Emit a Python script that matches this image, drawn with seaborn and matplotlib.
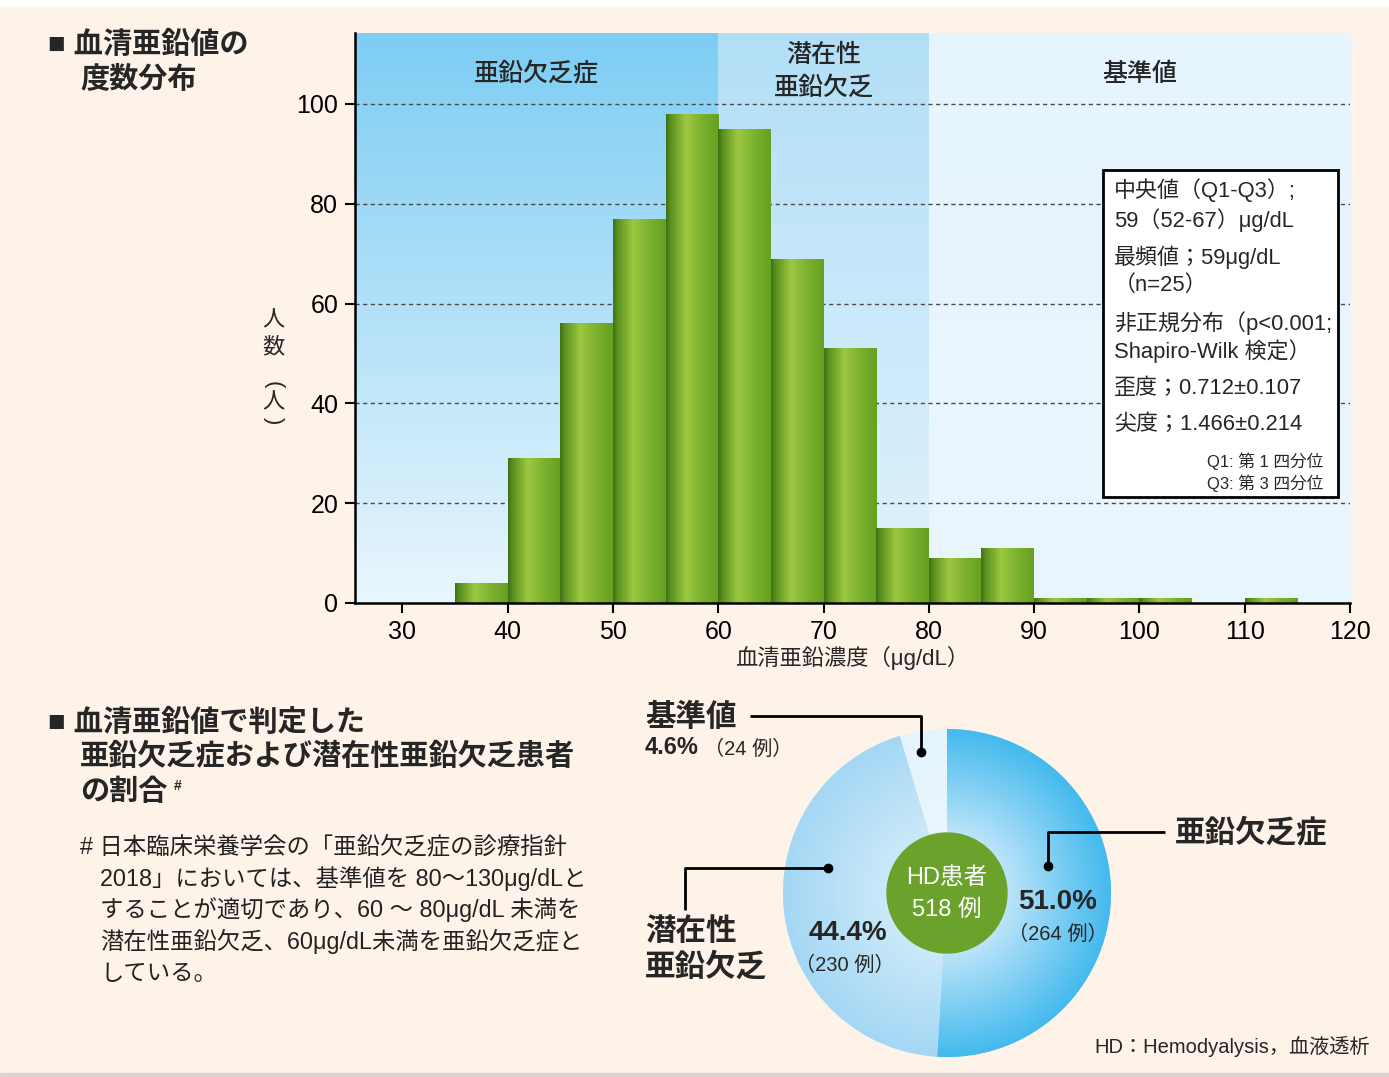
import numpy as np
import pandas as pd
import matplotlib
matplotlib.use("Agg")
import matplotlib.pyplot as plt
import seaborn as sns
from matplotlib.colors import LinearSegmentedColormap
from matplotlib.patches import Rectangle, Circle

# ---- data ----
bin_left = [35, 40, 45, 50, 55, 60, 65, 70, 75, 80, 85, 90, 95, 100, 105, 110]
counts = [4, 29, 56, 77, 98, 95, 69, 51, 15, 9, 11, 1, 1, 1, 0, 1]
bin_width = 5
x_ticks = [30, 40, 50, 60, 70, 80, 90, 100, 110, 120]
y_ticks = [0, 20, 40, 60, 80, 100]
zone_edges = [25.5, 60, 80, 120]
zone_names = [["亜鉛欠乏症"], ["潜在性", "亜鉛欠乏"], ["基準値"]]

pie_names = ["亜鉛欠乏症", "潜在性亜鉛欠乏", "基準値"]
pie_counts = [264, 230, 24]
n_total = 518

stats_lines = ["中央値（Q1-Q3）;", "59（52-67）μg/dL", "最頻値；59μg/dL", "（n=25）",
               "非正規分布（p<0.001;", "Shapiro-Wilk 検定）",
               "歪度；0.712±0.107", "尖度；1.466±0.214"]
stats_notes = ["Q1: 第 1 四分位", "Q3: 第 3 四分位"]
note_lines = ["# 日本臨床栄養学会の「亜鉛欠乏症の診療指針",
              "2018」においては、基準値を 80〜130μg/dLと",
              "することが適切であり、60 〜 80μg/dL 未満を",
              "潜在性亜鉛欠乏、60μg/dL未満を亜鉛欠乏症と",
              "している。"]

sns.set_style("white")
plt.rcParams['font.family'] = ['Liberation Sans', 'Noto Sans CJK JP', 'DejaVu Sans']

W, H = 1389, 1077
fig = plt.figure(figsize=(W / 100, H / 100), dpi=100, facecolor='#FEF3E8')

# ---- histogram ----
ax = fig.add_axes([355 / W, 1 - 603 / H, (1350 - 355) / W, (603 - 33) / H])
ymax = 114.2
zone_cmaps = [
    LinearSegmentedColormap.from_list("z1", ["#7DCDF4", "#EAF6FD"]),
    LinearSegmentedColormap.from_list("z2", ["#B2DFF7", "#E2F2FC"]),
    LinearSegmentedColormap.from_list("z3", ["#E6F4FD", "#EAF6FE"]),
]
vgrad = np.linspace(0, 1, 256).reshape(-1, 1)
for i in range(3):
    ax.imshow(vgrad, cmap=zone_cmaps[i], extent=[zone_edges[i], zone_edges[i + 1], 0, ymax],
              aspect='auto', zorder=0)

for yv in y_ticks[1:]:
    ax.axhline(yv, color='#4a4a4a', lw=1, ls=(0, (3, 2.5)), zorder=1)

df = pd.DataFrame({"zinc": [b + bin_width / 2 for b in bin_left], "n": counts})
sns.histplot(data=df, x="zinc", weights="n", binwidth=bin_width,
             binrange=(bin_left[0], bin_left[-1] + bin_width), ax=ax,
             color="#7AAE2C", alpha=1, linewidth=0, zorder=3)

green = LinearSegmentedColormap.from_list(
    "bar", [(0, "#3E7015"), (0.08, "#5A8F1F"), (0.38, "#9DC841"), (0.7, "#7AB02D"), (1, "#66A022")])
hgrad = np.linspace(0, 1, 128).reshape(1, -1)
for p in ax.patches:
    h = p.get_height()
    if h <= 0:
        continue
    x0 = p.get_x()
    im = ax.imshow(hgrad, cmap=green, extent=[x0, x0 + p.get_width(), 0, h],
                   aspect='auto', zorder=3.5, interpolation='bicubic')
    im.set_clip_path(p)

for i, names in enumerate(zone_names):
    xc = (zone_edges[i] + zone_edges[i + 1]) / 2
    if len(names) == 1:
        ax.text(xc, 106, names[0], ha='center', va='center', fontsize=18, fontweight='medium', zorder=5)
    else:
        ax.text(xc, 109.8, names[0], ha='center', va='center', fontsize=18, fontweight='medium', zorder=5)
        ax.text(xc, 103.2, names[1], ha='center', va='center', fontsize=18, fontweight='medium', zorder=5)

ax.set_xlim(zone_edges[0], zone_edges[-1])
ax.set_ylim(0, ymax)
ax.set_xticks(x_ticks)
ax.set_yticks(y_ticks)
ax.tick_params(axis='both', direction='out', length=7, width=1.5, colors='black',
               labelsize=18, pad=5, bottom=True, left=True)
for s in ['top', 'right']:
    ax.spines[s].set_visible(False)
for s in ['left', 'bottom']:
    ax.spines[s].set_color('black')
    ax.spines[s].set_linewidth(1.8)
    ax.spines[s].set_zorder(6)
ax.set_xlabel("血清亜鉛濃度（μg/dL）", fontsize=16, labelpad=2)
ax.set_ylabel("")

# ---- pie ----
cx, cy, r = 947, 893, 164
pax = fig.add_axes([(cx - r) / W, 1 - (cy + r) / H, 2 * r / W, 2 * r / H])
wedges, _ = pax.pie(pie_counts, startangle=90, counterclock=False,
                    colors=["#7FD0F3", "#BDE3F8", "#E8F5FC"], wedgeprops=dict(linewidth=0))
pie_cmaps = [
    LinearSegmentedColormap.from_list("p1", [(0, "#E3F4FD"), (0.35, "#BFE5F9"), (1, "#44BAEE")]),
    LinearSegmentedColormap.from_list("p2", [(0, "#E2F3FC"), (1, "#A4D7F4")]),
    LinearSegmentedColormap.from_list("p3", [(0, "#EEF8FE"), (1, "#E4F3FC")]),
]
yy, xx = np.mgrid[-1:1:300j, -1:1:300j]
rr = np.clip(np.hypot(xx, yy), 0, 1)
for w, cm in zip(wedges, pie_cmaps):
    im = pax.imshow(rr, cmap=cm, vmin=0, vmax=1, extent=[-1, 1, -1, 1], origin='lower', zorder=2)
    im.set_clip_path(w)
pax.add_patch(Circle((0, 0), 60 / r, color='#6BA22B', zorder=5))
pax.text(0, 15 / r, "HD患者", color='white', ha='center', va='center', fontsize=17, zorder=6)
pax.text(0, -17 / r, f"{n_total} 例", color='white', ha='center', va='center', fontsize=17, zorder=6)
pax.set_xlim(-1, 1)
pax.set_ylim(-1, 1)
pax.set_aspect('equal')
pax.axis('off')

# ---- overlay texts (pixel coordinates) ----
ov = fig.add_axes([0, 0, 1, 1], zorder=10)
ov.set_xlim(0, W)
ov.set_ylim(H, 0)
ov.axis('off')
ov.patch.set_alpha(0)

ov.add_patch(Rectangle((0, 0), W, 6, color='white', zorder=0))
ov.add_patch(Rectangle((0, 1073), W, 4, color='#D9D4CE', zorder=0))

ov.text(48, 45, "■ 血清亜鉛値の", fontsize=21, fontweight='bold', va='center')
ov.text(80, 80, "度数分布", fontsize=21, fontweight='bold', va='center')

# vertical y label: 人数（人）
ov.text(273, 321, "人", fontsize=16, ha='center', va='center')
ov.text(273, 348, "数", fontsize=16, ha='center', va='center')
ov.text(273, 385, "(", fontsize=16, ha='center', va='center', rotation=-90)
ov.text(273, 403, "人", fontsize=16, ha='center', va='center')
ov.text(273, 421, ")", fontsize=16, ha='center', va='center', rotation=-90)

# stats box
ov.add_patch(Rectangle((1103, 170), 235, 327, facecolor='white', edgecolor='black', lw=2, zorder=1))
stats_y = [190, 220, 257, 285, 323, 351, 388, 425]
for s, yp in zip(stats_lines, stats_y):
    ov.text(1114, yp, s, fontsize=15.8, va='center', ha='left', zorder=2)
for s, yp in zip(stats_notes, [461, 483]):
    ov.text(1323, yp, s, fontsize=12, va='center', ha='right', zorder=2)

# bottom title and note
ov.text(48, 723, "■ 血清亜鉛値で判定した", fontsize=21, fontweight='bold', va='center')
ov.text(80, 757, "亜鉛欠乏症および潜在性亜鉛欠乏患者", fontsize=21, fontweight='bold', va='center')
ov.text(80, 792, "の割合", fontsize=21, fontweight='bold', va='center')
ov.text(174, 786, "#", fontsize=10, fontweight='bold', va='center')
for i, s in enumerate(note_lines):
    ov.text(80 if i == 0 else 100, 847 + i * 31.5, s, fontsize=16.8, va='center', color='#222222')

# pie labels with leader lines
lc = dict(color='black', lw=2, solid_capstyle='butt')
ov.plot([750, 921, 921], [716, 716, 752], **lc)
ov.plot([921], [752], 'o', color='black', ms=6)
ov.plot([1165, 1048, 1048], [832, 832, 866], **lc)
ov.plot([1048], [866], 'o', color='black', ms=6)
ov.plot([685, 685, 828], [910, 868, 868], **lc)
ov.plot([828], [868], 'o', color='black', ms=6)

pct = [c / n_total * 100 for c in pie_counts]
ov.text(645, 718, pie_names[2], fontsize=22, fontweight='bold', va='center')
ov.text(645, 748, f"{pct[2]:.1f}%", fontsize=17, fontweight='bold', va='center')
ov.text(704, 749, f"（{pie_counts[2]} 例）", fontsize=14.5, va='center')
ov.text(1175, 833, pie_names[0], fontsize=22, fontweight='bold', va='center')
ov.text(645, 932, "潜在性", fontsize=22, fontweight='bold', va='center')
ov.text(645, 968, "亜鉛欠乏", fontsize=22, fontweight='bold', va='center')
ov.text(1058, 902, f"{pct[0]:.1f}%", fontsize=20, fontweight='bold', ha='center', va='center')
ov.text(1058, 934, f"（{pie_counts[0]} 例）", fontsize=14.5, ha='center', va='center')
ov.text(848, 933, f"{pct[1]:.1f}%", fontsize=20, fontweight='bold', ha='center', va='center')
ov.text(845, 965, f"（{pie_counts[1]} 例）", fontsize=14.5, ha='center', va='center')
ov.text(1370, 1047, "HD：Hemodyalysis，血液透析", fontsize=14.5, ha='right', va='center')

fig.savefig("out.png", dpi=100, facecolor=fig.get_facecolor())
